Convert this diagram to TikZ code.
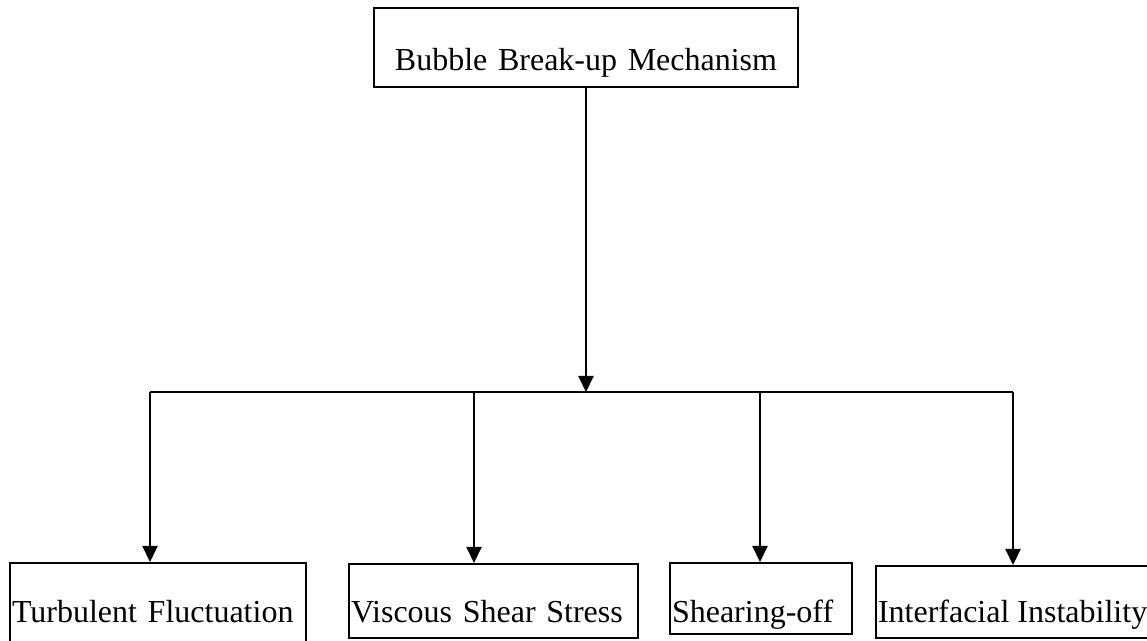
\documentclass[tikz,border=0pt]{standalone}
\usepackage{fontspec}
\setmainfont{Liberation Serif}
\usetikzlibrary{arrows.meta}

\begin{document}
\begin{tikzpicture}[
	x = 0.5pt, y = -0.5pt,
	every node/.style = {font = \fontsize{16}{19}\selectfont},
	box/.style = {draw, line width = 1pt, inner xsep = 1pt, inner ysep = 0pt, anchor = north west, align = left},
	arr/.style = {line width = 1pt, -{Triangle[width = 7.5pt, length = 8pt]}}
	]

	\useasboundingbox (0,0) rectangle (1147,641);

	% top box
	\node[box, align = center, text width = 210pt, text height = 31.5pt, text depth = 8pt] (bbm) at (373,7) {Bubble Break-up Mechanism};

	% the four mechanisms
	\node[box, text width = 146pt, text height = 30pt, text depth = 11pt] (tf) at (9,562) {Turbulent Fluctuation};
	\node[box, text width = 142.5pt, text height = 29.5pt, text depth = 7.5pt] (vss) at (348,563) {Viscous Shear Stress};
	\node[box, text width = 89pt, text height = 30pt, text depth = 5.5pt] (so) at (669,562) {Shearing-off};
	\node[box, text height = 28.5pt, text depth = 7.5pt] (ii) at (875,565) {Interfacial Instability};

	% branch line
	\coordinate (b1) at (150,392);
	\coordinate (b2) at (474,392);
	\coordinate (b3) at (760,392);
	\coordinate (b4) at (1013,392);
	\coordinate (hub) at (bbm.south |- b1);

	\draw[line width = 1pt] (b1) -- (b4);
	\draw[arr] (bbm) -- (hub);

	\draw[arr] (b1) -- (b1 |- tf.north);
	\draw[arr] (b2) -- (b2 |- vss.north);
	\draw[arr] (b3) -- (b3 |- so.north);
	\draw[arr] (b4) -- (b4 |- ii.north);

\end{tikzpicture}
\end{document}
